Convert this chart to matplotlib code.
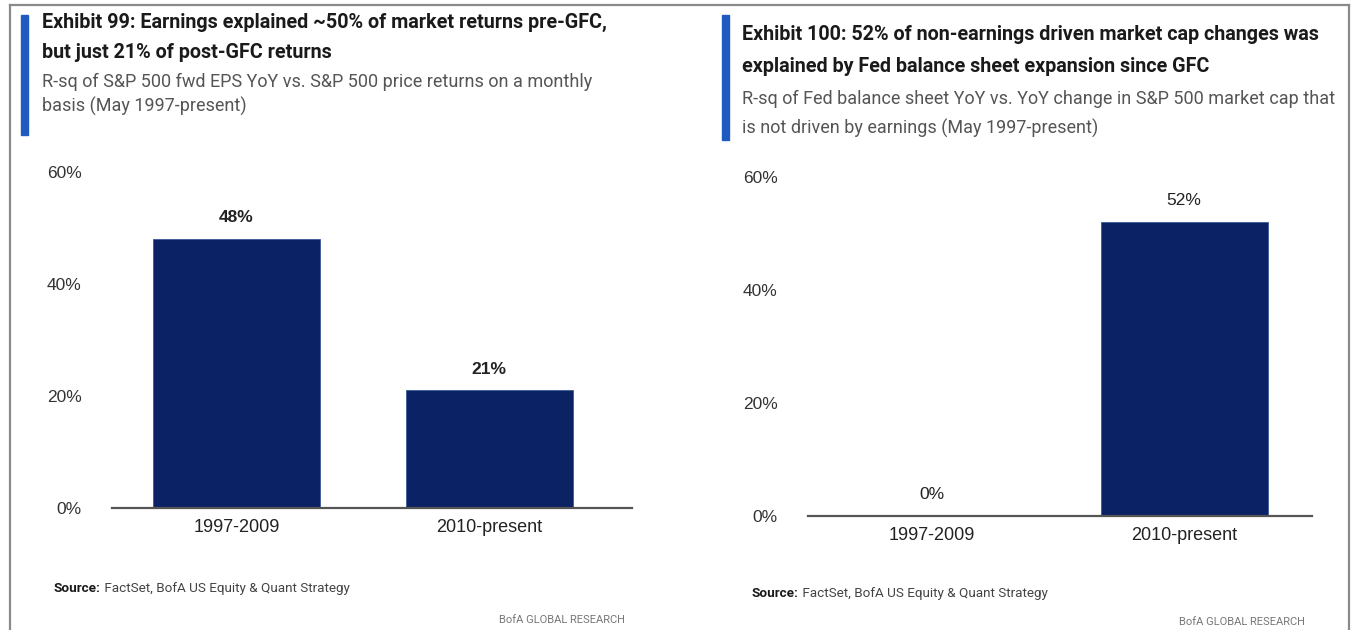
import matplotlib
matplotlib.use("Agg")
import matplotlib.pyplot as plt
from matplotlib import font_manager
from matplotlib.lines import Line2D
from matplotlib.patches import Rectangle

# data
categories = ["1997-2009", "2010-present"]
rsq_earnings = [48, 21]
rsq_fed = [0, 52]
yticks = [0, 20, 40, 60]

titles_left = ["Exhibit 99: Earnings explained ~50% of market returns pre-GFC,",
               "but just 21% of post-GFC returns"]
subs_left = ["R-sq of S&P 500 fwd EPS YoY vs. S&P 500 price returns on a monthly",
             "basis (May 1997-present)"]
titles_right = ["Exhibit 100: 52% of non-earnings driven market cap changes was",
                "explained by Fed balance sheet expansion since GFC"]
subs_right = ["R-sq of Fed balance sheet YoY vs. YoY change in S&P 500 market cap that",
              "is not driven by earnings (May 1997-present)"]
source_rest = " FactSet, BofA US Equity & Quant Strategy"
brand = "BofA GLOBAL RESEARCH"

names = {f.name for f in font_manager.fontManager.ttflist}
NARROW = "Liberation Sans Narrow" if "Liberation Sans Narrow" in names else "Roboto"
ARIAL = "Liberation Sans"

NAVY = "#0b2265"
ACCENT = "#1f5bbf"
W, H = 1354, 630

fig = plt.figure(figsize=(W / 100, H / 100), dpi=100)
fig.patch.set_facecolor("white")


def fx(px):
    return px / W


def fy(py):
    return 1 - py / H


# outer frame
for xs, ys in [((10, 1349), (5, 5)), ((10, 10), (5, 630)), ((1349, 1349), (5, 630))]:
    fig.add_artist(Line2D([fx(x) for x in xs], [fy(y) for y in ys],
                          color="#8a8a8a", lw=1.6))


def header(x0, bar_top, bar_bot, x_text, title_y, sub_y, titles, subs):
    fig.add_artist(Rectangle((fx(x0), fy(bar_bot)), fx(7), fy(bar_top) - fy(bar_bot),
                             color=ACCENT, transform=fig.transFigure))
    for t, y in zip(titles, title_y):
        fig.text(fx(x_text), fy(y), t, family=NARROW, weight="bold", fontsize=14.2,
                 color="#1a1a1a", va="center", ha="left")
    for t, y in zip(subs, sub_y):
        fig.text(fx(x_text), fy(y), t, family=NARROW, fontsize=13,
                 color="#555555", va="center", ha="left")


def source(x, y):
    # bold label followed by the regular text on the same baseline
    t = fig.text(fx(x), fy(y), "Source:", family=NARROW, weight="bold", fontsize=9.7,
                 color="#1a1a1a", va="baseline", ha="left")
    r = fig.canvas.get_renderer()
    bb = t.get_window_extent(r)
    fig.text(bb.x1 / W, fy(y), source_rest, family=NARROW, fontsize=9.7,
             color="#444444", va="baseline", ha="left")


def chart(left, right, y0, y60, centers, values, bold_labels):
    ax = fig.add_axes([fx(left), fy(y0), fx(right - left), fy(y60) - fy(y0)])
    spacing = centers[1] - centers[0]
    ax.bar(range(len(values)), values, width=167 / spacing, color=NAVY,
           edgecolor="#3a5a9a", linewidth=0.6)
    ax.set_ylim(0, 60)
    ax.set_xlim(-(centers[0] - left) / spacing, 1 + (right - centers[1]) / spacing)
    ax.set_yticks(yticks)
    ax.set_yticklabels([f"{v}%" for v in yticks], family=ARIAL, fontsize=12.5,
                       color="#333333")
    ax.set_xticks(range(len(categories)))
    ax.set_xticklabels(categories, family=ARIAL, fontsize=13, color="#222222")
    ax.tick_params(length=0)
    ax.tick_params(axis="y", pad=22)
    ax.tick_params(axis="x", pad=8)
    for s in ["top", "right", "left"]:
        ax.spines[s].set_visible(False)
    ax.spines["bottom"].set_color("#555555")
    ax.spines["bottom"].set_linewidth(1.6)
    ax.set_facecolor("none")
    for i, v in enumerate(values):
        ax.annotate(f"{v}%", (i, v), xytext=(0, 10), textcoords="offset points",
                    ha="center", va="bottom", family=ARIAL, fontsize=12.5,
                    weight="bold" if bold_labels else "normal", color="#222222")
    return ax


header(21, 15, 135, 42, [22, 52], [82, 106], titles_left, subs_left)
header(722, 15, 140, 742, [35, 67], [99, 128], titles_right, subs_right)

chart(112, 632, 508, 172, [236.5, 489], rsq_earnings, True)
chart(808, 1312, 516, 177, [932, 1184], rsq_fed, False)

source(54, 592)
source(752, 597)
fig.text(fx(625), fy(620), brand, family=NARROW, fontsize=8, color="#777777",
         ha="right", va="center")
fig.text(fx(1305), fy(622), brand, family=NARROW, fontsize=8, color="#777777",
         ha="right", va="center")

fig.savefig("out.png", dpi=100, facecolor="white")
